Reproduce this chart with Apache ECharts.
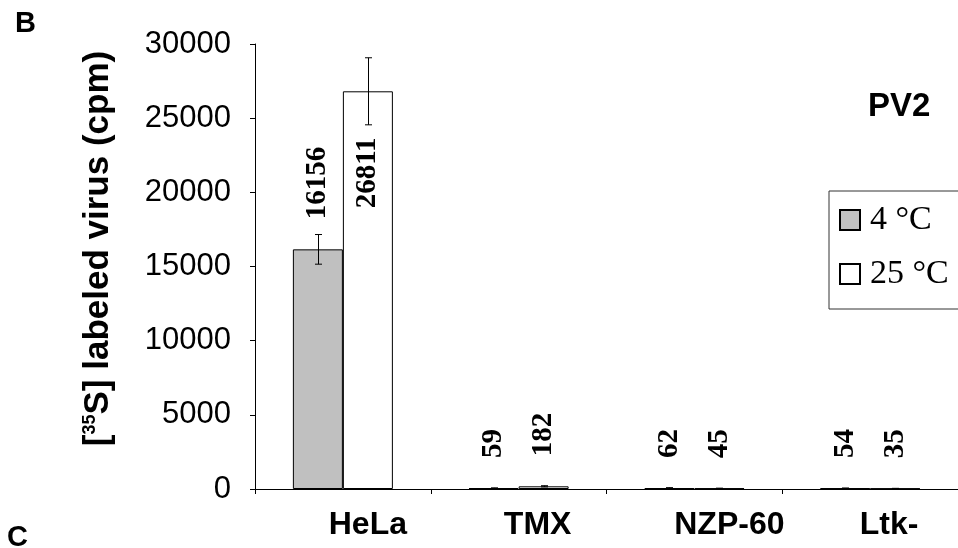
<!DOCTYPE html>
<html><head><meta charset="utf-8">
<script src="https://cdn.jsdelivr.net/npm/echarts@6/dist/echarts.min.js"></script>
<style>html,body{margin:0;padding:0;background:#fff}#c{width:958px;height:548px}</style>
</head><body><div id="c"></div>
<script>
// ---- data ----
const categories = ['HeLa', 'TMX', 'NZP-60', 'Ltk-'];
const seriesNames = ['4 °C', '25 °C'];
const cold = [16156, 59, 62, 54];
const warm = [26811, 182, 45, 35];
const coldErr = [1000, 15, 30, 10];
const warmErr = [2260, 40, 10, 10];
const yTicks = [0, 5000, 10000, 15000, 20000, 25000, 30000];
const panelLabels = ['B', 'C'];
const panelTitle = 'PV2';

// ---- styling ----
const SANS = "'Liberation Sans', Arial, Helvetica, sans-serif";
const SERIF = "'Liberation Serif', 'Times New Roman', serif";
const BAR_W = 50;
const labelShift = [25, 19, 35, 19];   // x label horizontal nudges (px)

const rich = {};
categories.forEach((c, i) => {
  rich['c' + i] = {fontFamily: SANS, fontSize: 32, fontWeight: 'bold', color: '#000',
                   padding: [0, 0, 0, labelShift[i] * 2]};
});

function errSeries(vals, errs, dir) {
  return {
    type: 'custom', silent: true, z: 10,
    data: vals.map((v, k) => [k, v, errs[k]]),
    renderItem: function (params, api) {
      const i = api.value(0), v = api.value(1), e = api.value(2);
      const c = api.coord([i, v]);
      const x = Math.round(c[0] + dir * BAR_W / 2) + 0.5;
      const top = api.coord([i, v + e])[1];
      const bot = api.coord([i, Math.max(0, v - e)])[1];
      const st = {stroke: '#000', lineWidth: 1};
      return {type: 'group', children: [
        {type: 'line', shape: {x1: x, y1: top, x2: x, y2: bot}, style: st},
        {type: 'line', shape: {x1: x - 3.5, y1: top, x2: x + 3.5, y2: top}, style: st},
        {type: 'line', shape: {x1: x - 3.5, y1: bot, x2: x + 3.5, y2: bot}, style: st}
      ]};
    }
  };
}

const valueLabel = {
  show: true, position: 'top', distance: 30, rotate: 90,
  align: 'left', verticalAlign: 'middle',
  fontFamily: SERIF, fontSize: 29, fontWeight: 'bold', color: '#000',
  formatter: '{c}'
};

const chart = echarts.init(document.getElementById('c'), null, {renderer: 'canvas'});
chart.setOption({
  animation: false,
  backgroundColor: '#fff',
  grid: {left: 255, right: 0, top: 44, bottom: 59, containLabel: false},
  xAxis: {
    type: 'category', data: categories,
    axisLine: {lineStyle: {color: '#000', width: 1}},
    axisTick: {show: true, length: 5, lineStyle: {color: '#000'}},
    axisLabel: {
      margin: 20, interval: 0,
      formatter: (v) => '{c' + categories.indexOf(v) + '|' + v + '}',
      rich: rich
    }
  },
  yAxis: {
    type: 'value', min: yTicks[0], max: yTicks[yTicks.length - 1],
    interval: yTicks[1] - yTicks[0],
    splitLine: {show: false},
    axisLine: {show: true, lineStyle: {color: '#000', width: 1}},
    axisTick: {show: true, length: 5, lineStyle: {color: '#000'}},
    axisLabel: {margin: 24, fontFamily: SANS, fontSize: 31, color: '#000', padding: [6, 0, 0, 0],
                formatter: (v) => String(v)},
    name: '[{sup|35}S] labeled virus (cpm)',
    nameLocation: 'middle', nameGap: 139,
    nameTextStyle: {
      fontFamily: SANS, fontSize: 35, fontWeight: 'bold', color: '#000',
      padding: [0, 0, 0, 36],
      rich: {sup: {fontFamily: SANS, fontSize: 18, fontWeight: 'bold', color: '#000', verticalAlign: 'top'}}
    }
  },
  legend: {
    orient: 'vertical', left: 829, top: 191,
    data: seriesNames, icon: 'rect',
    itemWidth: 20, itemHeight: 20, itemGap: 20,
    padding: [12, 20, 18, 10],
    borderColor: '#333', borderWidth: 1,
    selectedMode: false,
    textStyle: {fontFamily: SERIF, fontSize: 34, color: '#000', padding: [0, 0, 0, 5]}
  },
  graphic: [
    {type: 'text', left: 15, top: 9, style: {text: panelLabels[0], fontFamily: SANS, fontSize: 29, fontWeight: 'bold', fill: '#000'}},
    {type: 'text', left: 7, top: 523, style: {text: panelLabels[1], fontFamily: SANS, fontSize: 29, fontWeight: 'bold', fill: '#000'}},
    {type: 'text', left: 868, top: 90, style: {text: panelTitle, fontFamily: SANS, fontSize: 33, fontWeight: 'bold', fill: '#000'}}
  ],
  series: [
    {
      name: seriesNames[0], type: 'bar', barWidth: BAR_W, barGap: '0%',
      itemStyle: {color: '#c0c0c0', borderColor: '#000', borderWidth: 1},
      label: valueLabel,
      data: cold
    },
    {
      name: seriesNames[1], type: 'bar', barWidth: BAR_W, barGap: '0%',
      itemStyle: {color: '#ffffff', borderColor: '#000', borderWidth: 1},
      label: valueLabel,
      data: warm.map((v, k) => k === 0 ? {value: v, label: {distance: -117}} : v)
    },
    errSeries(cold, coldErr, -1),
    errSeries(warm, warmErr, 1)
  ]
});
</script>
</body></html>
